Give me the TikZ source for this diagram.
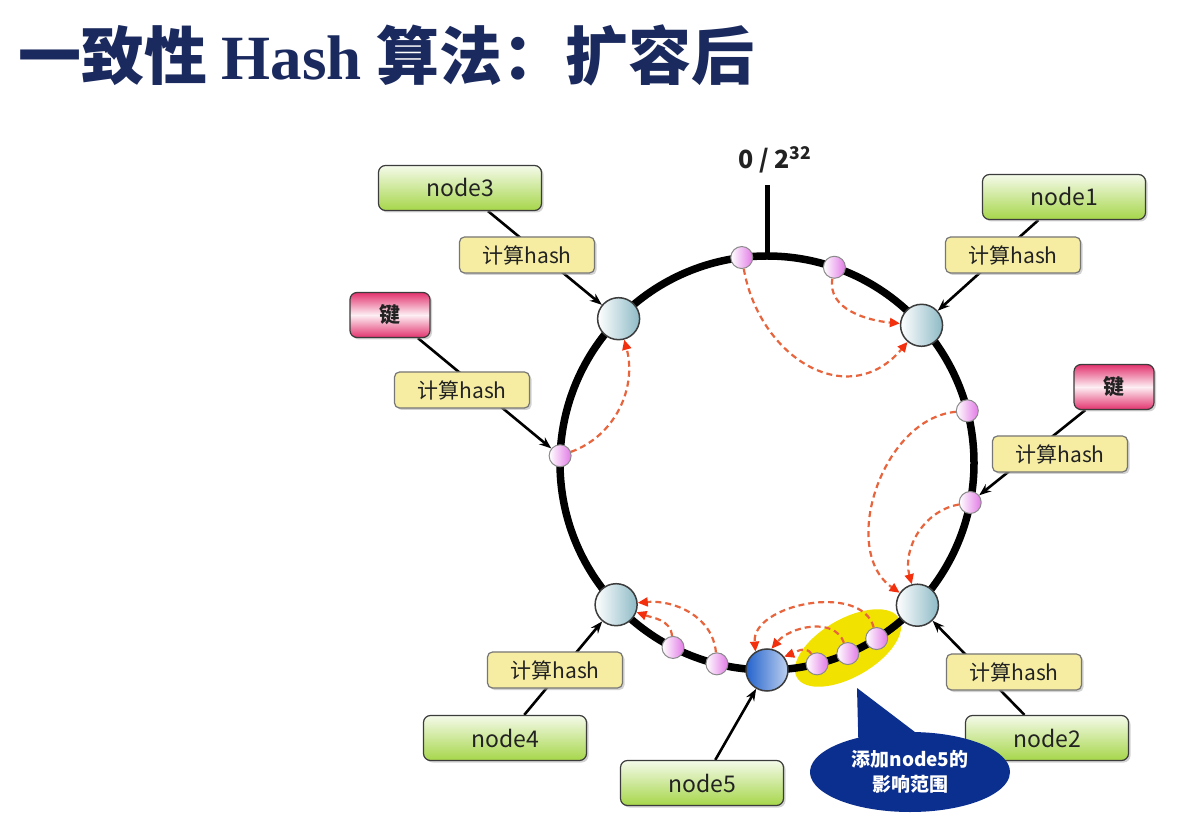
\documentclass[tikz,border=0pt]{standalone}
\usepackage{fontspec}
\usepackage{xcolor}
\usepackage{tikz}
\usetikzlibrary{arrows.meta,positioning,calc,backgrounds,shapes.geometric,shapes.callouts,shadows}
\newfontfamily\cjk{Noto Sans CJK SC}
\newfontfamily\tserif{Liberation Serif}
\definecolor{cNavy}{HTML}{1B2A5E}
\definecolor{cInk}{HTML}{222222}
\definecolor{cEdge}{HTML}{3C3C3C}
\definecolor{cLime}{HTML}{A6D64A}
\definecolor{cSand}{HTML}{F6EDA2}
\definecolor{cRose}{HTML}{E2336E}
\definecolor{cSteel}{HTML}{8DBAC6}
\definecolor{cBlue}{HTML}{2463CC}
\definecolor{cOrchid}{HTML}{E27AE6}
\definecolor{cDash}{HTML}{E8643C}
\definecolor{cTip}{HTML}{F2300E}
\definecolor{cGlow}{HTML}{F2E200}
\definecolor{cDeep}{HTML}{0B2F8E}
\tikzset{
  pbox/.style={draw=cEdge,rounded corners=7pt,line width=1.2pt,align=center,text=cInk,inner sep=2pt,
    drop shadow={shadow xshift=2pt,shadow yshift=-2pt,fill=black!35}},
  nodebox/.style={pbox,top color=cLime!12,bottom color=cLime,minimum width=163pt,minimum height=45pt,font=\cjk\fontsize{23}{25}\selectfont},
  hashbox/.style={pbox,fill=cSand,draw=cEdge!70,minimum width=135pt,minimum height=36pt,rounded corners=5pt,font=\cjk\fontsize{21}{23}\selectfont},
  keybox/.style={pbox,top color=cRose,bottom color=cRose,middle color=cRose!8,minimum width=80pt,minimum height=45pt,font=\cjk\bfseries\fontsize{21}{23}\selectfont},
  srv/.style={circle,draw=cEdge,line width=1.5pt,left color=white,right color=#1,minimum size=42pt,inner sep=0pt},
  srv/.default=cSteel,
  keypt/.style={circle,draw=cEdge!60,line width=1pt,left color=white,right color=cOrchid,minimum size=22pt,inner sep=0pt},
  link/.style={-{Stealth[length=12pt,width=9pt]},line width=2.6pt,color=black},
  darr/.style={-{Triangle[length=10pt,width=9pt,color=cTip]},dash pattern=on 6pt off 4pt,line width=2.2pt,color=cDash},
}
\begin{document}
\begin{tikzpicture}[x=1pt,y=1pt]
  \useasboundingbox (0,0) rectangle (1198,835);
  \node[anchor=base west,inner sep=0pt,text=cNavy,font=\fontsize{63}{72}\selectfont] (title) at (18,755)
    {\cjk\bfseries 一致性 {\tserif\bfseries Hash} 算法：扩容后};

  \draw[line width=7.5pt] (767,372) circle[radius=207];
  \coordinate (rtop) at (767,579);
  \coordinate (rtick) at (767,650);
  \draw[line width=5pt] (rtop) -- (rtick);
  \node[font=\cjk\bfseries\fontsize{25}{27}\selectfont,text=cInk] (zero) at (775,675) {0 / 2\textsuperscript{32}};

  \begin{scope}[shift={(767,372)}]
    \node[srv] (srv1) at (41.7:207) {};
    \node[srv] (srv2) at (316.6:207) {};
    \node[srv] (srv3) at (135.8:207) {};
    \node[srv] (srv4) at (223.2:207) {};
    \node[srv=cBlue!30,left color=cBlue] (srv5) at (270:207) {};
    \node[keypt] (kp1) at (97:207) {};
    \node[keypt] (kp2) at (71:207) {};
    \node[keypt] (kp3) at (178:207) {};
    \node[keypt] (kp4) at (14.6:207) {};
    \node[keypt] (kp5) at (349:207) {};
    \node[keypt] (kp6) at (243:207) {};
    \node[keypt] (kp7) at (256:207) {};
    \node[keypt] (kp8) at (284:207) {};
    \node[keypt] (kp9) at (293:207) {};
    \node[keypt] (kp10) at (302:207) {};
  \end{scope}

  \node[nodebox] (nb3) at (460,647) {node3};
  \node[hashbox] (h3) at (527,580) {计算hash};
  \node[keybox] (kb1) at (390,520) {键};
  \node[hashbox] (hk1) at (462,445) {计算hash};
  \node[nodebox] (nb1) at (1064,638) {node1};
  \node[hashbox] (h1) at (1013,580) {计算hash};
  \node[keybox] (kb2) at (1114,448) {键};
  \node[hashbox] (hk2) at (1060,381) {计算hash};
  \node[hashbox] (h4) at (555,165) {计算hash};
  \node[nodebox] (nb4) at (505,97) {node4};
  \node[nodebox] (nb5) at (702,52) {node5};
  \node[hashbox] (h2) at (1014,163) {计算hash};
  \node[nodebox] (nb2) at (1047,97) {node2};

  \coordinate (tip) at (857,147);
  \node[ellipse callout,fill=cDeep,minimum width=200pt,minimum height=80pt,inner sep=0pt,
    callout absolute pointer={(tip)},callout pointer arc=34,text=white,align=center,
    font=\cjk\bfseries\fontsize{19}{25}\selectfont] (note) at (910,63) {添加node5的\\影响范围};

  \draw[darr] (kp1) to[out=-80,in=-130,looseness=1.3] (srv1);
  \draw[darr] (kp2) to[out=-100,in=175] (srv1);
  \draw[darr] (kp3) to[out=20,in=-75] (srv3);
  \draw[darr] (kp4) to[out=185,in=145] (srv2);
  \draw[darr] (kp5) to[out=190,in=105] (srv2);
  \draw[darr] (kp6) to[out=95,in=-20] (srv4);
  \draw[darr] (kp7) to[out=95,in=5] (srv4);
  \draw[darr] (kp10) to[out=105,in=95] (srv5.122);
  \draw[darr] (kp9) to[out=110,in=50] (srv5.78);
  \draw[darr] (kp8) to[out=120,in=20] (srv5.38);

  \begin{scope}[on background layer]
    \fill[white] (0,0) rectangle (1198,835);
    \node[ellipse,fill=cGlow,minimum width=118pt,minimum height=58pt,inner sep=0pt,rotate=30] (glow) at (848,187) {};
    \draw[link] (nb3) -- (srv3);
    \draw[link] (kb1) -- (kp3);
    \draw[link] (nb1) -- (srv1);
    \draw[link] (kb2) -- (kp5);
    \draw[link] (nb4) -- (srv4);
    \draw[link] (nb5) -- (srv5);
    \draw[link] (nb2) -- (srv2);
  \end{scope}
\end{tikzpicture}
\end{document}
